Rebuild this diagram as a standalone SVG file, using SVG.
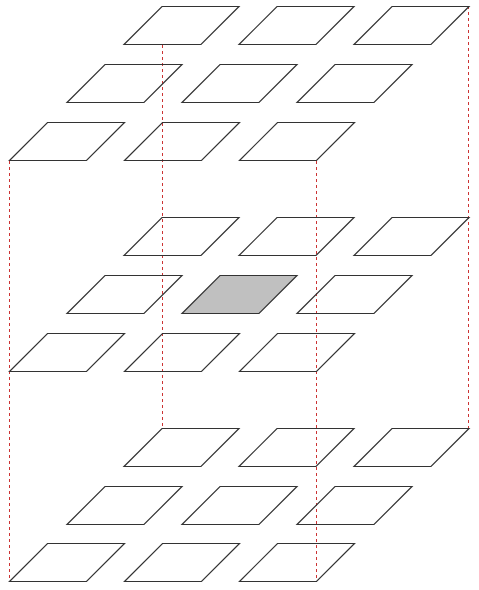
<svg xmlns="http://www.w3.org/2000/svg" xmlns:xlink="http://www.w3.org/1999/xlink" width="479" height="590" viewBox="0 0 479 590">
<style>
.cell{fill:none;stroke:#333333;stroke-width:1.2;stroke-linejoin:miter}
.shaded{fill:#c0c0c0}
.edge{stroke:#cc3333;stroke-width:1;stroke-dasharray:3,3;fill:none}
</style>
<defs>
<polygon id="p" points="0,0 77,0 115,-38 38,-38"/>
</defs>
<rect width="479" height="590" fill="#ffffff"/>
<g id="connectors">
<line class="edge" x1="9.5" y1="161" x2="9.5" y2="582"/>
<line class="edge" x1="162.5" y1="45" x2="162.5" y2="428"/>
<line class="edge" x1="316.5" y1="161" x2="316.5" y2="582"/>
<line class="edge" x1="468.5" y1="6" x2="468.5" y2="428"/>
</g>
<g id="layer-top">
<g id="t-b0"><use href="#p" class="cell" x="124" y="44.5"/></g>
<g id="t-b1"><use href="#p" class="cell" x="239" y="44.5"/></g>
<g id="t-b2"><use href="#p" class="cell" x="354" y="44.5"/></g>
<g id="t-m0"><use href="#p" class="cell" x="67" y="102.5"/></g>
<g id="t-m1"><use href="#p" class="cell" x="182" y="102.5"/></g>
<g id="t-m2"><use href="#p" class="cell" x="297" y="102.5"/></g>
<g id="t-f0"><use href="#p" class="cell" x="9.5" y="160.5"/></g>
<g id="t-f1"><use href="#p" class="cell" x="124.5" y="160.5"/></g>
<g id="t-f2"><use href="#p" class="cell" x="239.5" y="160.5"/></g>
</g>
<g id="layer-middle">
<g id="m-b0"><use href="#p" class="cell" x="124" y="255.5"/></g>
<g id="m-b1"><use href="#p" class="cell" x="239" y="255.5"/></g>
<g id="m-b2"><use href="#p" class="cell" x="354" y="255.5"/></g>
<g id="m-m0"><use href="#p" class="cell" x="67" y="313.5"/></g>
<g id="m-m1"><use href="#p" class="cell shaded" x="182" y="313.5"/></g>
<g id="m-m2"><use href="#p" class="cell" x="297" y="313.5"/></g>
<g id="m-f0"><use href="#p" class="cell" x="9.5" y="371.5"/></g>
<g id="m-f1"><use href="#p" class="cell" x="124.5" y="371.5"/></g>
<g id="m-f2"><use href="#p" class="cell" x="239.5" y="371.5"/></g>
</g>
<g id="layer-bottom">
<g id="b-b0"><use href="#p" class="cell" x="124" y="466.5"/></g>
<g id="b-b1"><use href="#p" class="cell" x="239" y="466.5"/></g>
<g id="b-b2"><use href="#p" class="cell" x="354" y="466.5"/></g>
<g id="b-m0"><use href="#p" class="cell" x="67" y="524.5"/></g>
<g id="b-m1"><use href="#p" class="cell" x="182" y="524.5"/></g>
<g id="b-m2"><use href="#p" class="cell" x="297" y="524.5"/></g>
<g id="b-f0"><use href="#p" class="cell" x="9.5" y="581.5"/></g>
<g id="b-f1"><use href="#p" class="cell" x="124.5" y="581.5"/></g>
<g id="b-f2"><use href="#p" class="cell" x="239.5" y="581.5"/></g>
</g>
</svg>
